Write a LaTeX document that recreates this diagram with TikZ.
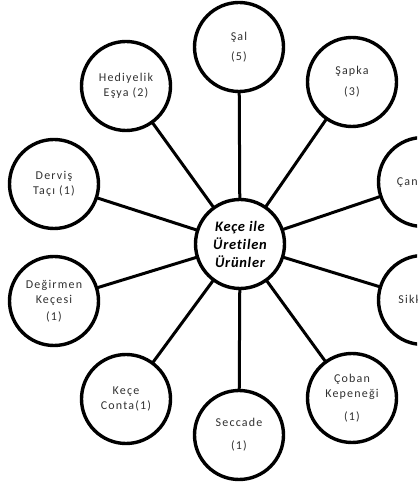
\documentclass[tikz,border=0pt]{standalone}
\usepackage{fontspec}
\usepackage{tkz-graph}
\setmainfont{Carlito}
\newfontfamily\etiket[LetterSpace=10, Ligatures=NoCommon]{Carlito}
\newfontfamily\baslik[LetterSpace=5, Ligatures=NoCommon]{Carlito}
\definecolor{yazi}{HTML}{303030}

\begin{document}
\begin{tikzpicture}[x = 1pt, y = 1pt]
\clip (0, 0) rectangle (417, 489);
\tikzstyle{VertexStyle}=[
shape = circle,
minimum size = 89pt,
inner sep = 0pt,
line width = 3.4pt,
align = center,
text = yazi,
font = \etiket\fontsize{12}{15}\selectfont,
draw]
\tikzstyle{EdgeStyle}=[line width = 3pt]
\begin{scope}[VertexStyle/.append style = {text = black, font = \baslik\fontsize{14.5}{18}\selectfont\bfseries\itshape}]
\Vertex[x = 240, y = 245, L = {Keçe ile\\Üretilen\\Ürünler}]{kece}
\end{scope}
\Vertex[x = 239, y = 442, L = {Şal\\[5pt](5)}]{sal}
\Vertex[x = 352, y = 407, L = {Şapka\\[6pt](3)}]{sapka}
\Vertex[x = 423, y = 307, L = {Çanta (1)}]{canta}
\Vertex[x = 423, y = 189, L = {Sikke (1)}]{sikke}
\Vertex[x = 352, y = 91, L = {Çoban\\Kepeneği\\[8pt](1)}]{coban}
\Vertex[x = 239, y = 54, L = {Seccade\\[8pt](1)}]{seccade}
\Vertex[x = 126, y = 90, L = {Keçe\\Conta(1)}]{conta}
\Vertex[x = 54, y = 188, L = {Değirmen\\Keçesi\\[2pt](1)}]{degirmen}
\Vertex[x = 54, y = 305, L = {Derviş\\Taçı (1)}]{dervis}
\Vertex[x = 126, y = 403, L = {Hediyelik\\Eşya (2)}]{hediye}
\Edge(kece)(sal)
\Edge(kece)(sapka)
\Edge(kece)(canta)
\Edge(kece)(sikke)
\Edge(kece)(coban)
\Edge(kece)(seccade)
\Edge(kece)(conta)
\Edge(kece)(degirmen)
\Edge(kece)(dervis)
\Edge(kece)(hediye)
\end{tikzpicture}
\end{document}
